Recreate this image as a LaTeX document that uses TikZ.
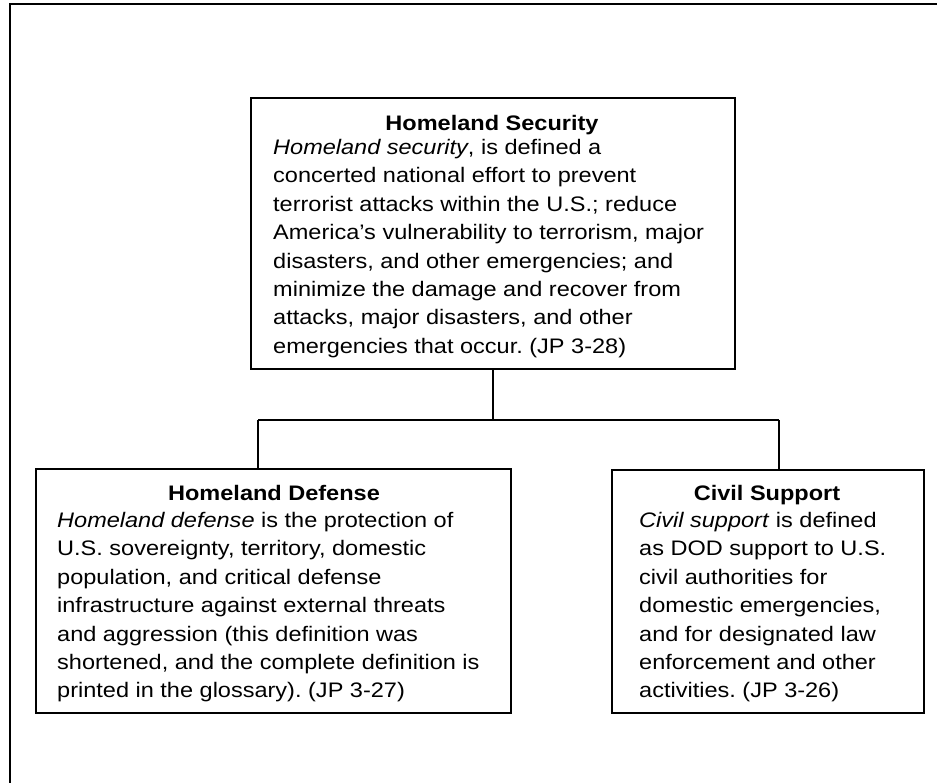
\documentclass[tikz,border=0pt]{standalone}
\usepackage{fontspec}
\setmainfont{Liberation Sans}[FakeStretch=1.12]
\begin{document}
\frenchspacing
\begin{tikzpicture}[x=1pt,y=-1pt,
  frame/.style={line width=2.4pt},
  box/.style={draw, line width=1.6pt, inner sep=0pt, anchor=north west},
  wire/.style={line width=1.8pt},
  title/.style={font=\fontsize{21}{28.4}\selectfont\bfseries, inner sep=0pt, anchor=base},
  body/.style={font=\fontsize{21}{28.4}\selectfont, align=left, inner sep=0pt, anchor=north west}]
\useasboundingbox (0,0) rectangle (937,782);

% outer page frame (only its top and left sides fall inside the page)
\draw[frame] (10,790) -- (10,4) -- (945,4);

% boxes
\node[box, minimum width=484, minimum height=271] (hs) at (250,97) {};
\node[box, minimum width=475, minimum height=244] (hd) at (35,468) {};
\node[box, minimum width=312, minimum height=243] (cs) at (611,469) {};

% titles and definitions
\node[title] (hsT) at (492,130) {Homeland Security};
\node[body] (hsB) at (273,139) {\textit{Homeland security}, is defined a\\
concerted national effort to prevent\\
terrorist attacks within the U.S.; reduce\\
America’s vulnerability to terrorism, major\\
disasters, and other emergencies; and\\
minimize the damage and recover from\\
attacks, major disasters, and other\\
emergencies that occur. (JP 3-28)};

\node[title] (hdT) at (274,500) {Homeland Defense};
\node[body] (hdB) at (57,512) {\textit{Homeland defense} is the protection of\\
U.S. sovereignty, territory, domestic\\
population, and critical defense\\
infrastructure against external threats\\
and aggression (this definition was\\
shortened, and the complete definition is\\
printed in the glossary). (JP 3-27)};

\node[title] (csT) at (767,500) {Civil Support};
\node[body] (csB) at (639,512) {\textit{Civil support} is defined\\
as DOD support to U.S.\\
civil authorities for\\
domestic emergencies,\\
and for designated law\\
enforcement and other\\
activities. (JP 3-26)};

% connectors
\coordinate (busL) at (258,420);
\coordinate (busR) at (779,420);
\coordinate (busC) at (hs.south |- busL);
\draw[wire] (hs.south) -- (busC);
\draw[wire] (busL) -- (busR);
\draw[wire] (busL) -- (busL |- hd.north);
\draw[wire] (busR) -- (busR |- cs.north);
\end{tikzpicture}
\end{document}
